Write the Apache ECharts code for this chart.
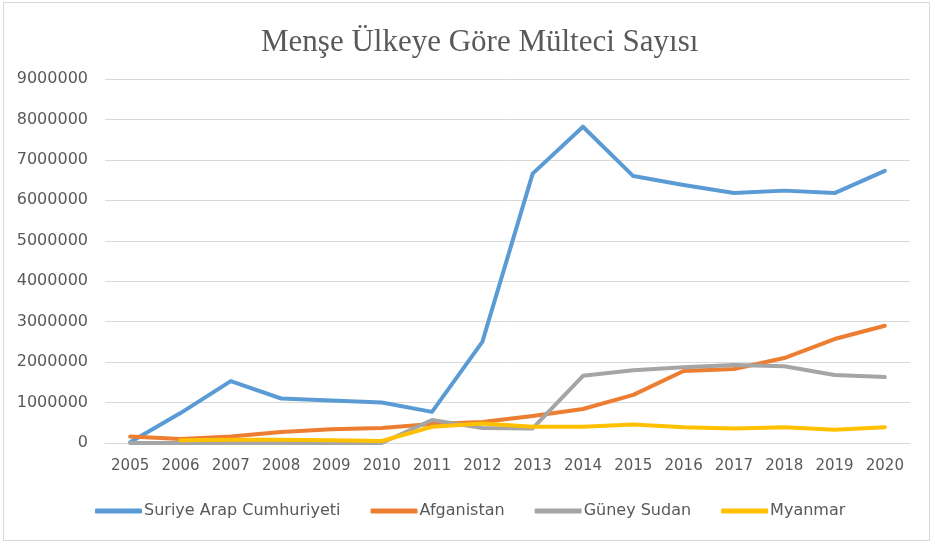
<!DOCTYPE html>
<html>
<head>
<meta charset="utf-8">
<script src="https://cdn.jsdelivr.net/npm/echarts@6/dist/echarts.min.js"></script>
<style>
  html, body { margin: 0; padding: 0; background: #fff; }
  #frame { position: absolute; left: 3px; top: 2px; width: 925px; height: 537px; border: 1px solid #d9d9d9; }
  #chart { position: absolute; left: 0; top: 0; width: 935px; height: 547px; }
</style>
</head>
<body>
<div id="frame"></div>
<div id="chart"></div>
<script>
const years = ['2005', '2006', '2007', '2008', '2009', '2010', '2011', '2012',
    '2013', '2014', '2015', '2016', '2017', '2018', '2019', '2020'];

const suriye = [20000, 740000, 1530000, 1100000, 1050000, 1000000, 770000, 2500000,
    6660000, 7820000, 6600000, 6380000, 6180000, 6240000, 6180000, 6730000];
const afganistan = [160000, 100000, 160000, 270000, 340000, 370000, 470000, 520000,
    670000, 840000, 1190000, 1780000, 1830000, 2100000, 2570000, 2900000];
const guneySudan = [0, 0, 0, 0, 0, 0, 570000, 370000,
    360000, 1660000, 1800000, 1870000, 1930000, 1900000, 1680000, 1630000];
const myanmar = [null, 70000, 80000, 80000, 70000, 50000, 400000, 480000,
    400000, 400000, 460000, 390000, 360000, 390000, 330000, 390000];

const colors = ['#5B9BD5', '#ED7D31', '#A5A5A5', '#FFC000'];

const chart = echarts.init(document.getElementById('chart'));

function line(name, data) {
    return {
        name: name,
        type: 'line',
        data: data,
        symbol: 'none',
        connectNulls: false,
        lineStyle: { width: 4, cap: 'round', join: 'round' }
    };
}

chart.setOption({
    animation: false,
    color: colors,
    title: {
        text: 'Menşe Ülkeye Göre Mülteci Sayısı',
        left: 256,
        top: 22,
        textStyle: {
            fontFamily: 'Liberation Serif',
            fontSize: 31,
            fontWeight: 'normal',
            color: '#595959'
        }
    },
    legend: {
        bottom: 23,
        left: 90,
        itemWidth: 47,
        itemHeight: 5,
        itemGap: 30,
        icon: 'roundRect',
        textStyle: { fontFamily: 'DejaVu Sans', fontSize: 16, color: '#595959', padding: [0, 0, 0, -3] }
    },
    grid: { left: 105, right: 25, top: 79, bottom: 104 },
    xAxis: {
        type: 'category',
        data: years,
        boundaryGap: true,
        axisLine: { lineStyle: { color: '#d9d9d9', width: 1 } },
        axisTick: { show: false },
        axisLabel: { fontFamily: 'DejaVu Sans', fontSize: 15, color: '#595959', margin: 16 }
    },
    yAxis: {
        type: 'value',
        min: 0,
        max: 9000000,
        interval: 1000000,
        axisLine: { show: false },
        axisTick: { show: false },
        splitLine: { lineStyle: { color: '#d9d9d9', width: 1 } },
        axisLabel: {
            fontFamily: 'DejaVu Sans', fontSize: 16, color: '#595959', margin: 17,
            formatter: function (v) { return String(v); }
        }
    },
    series: [
        line('Suriye Arap Cumhuriyeti', suriye),
        line('Afganistan', afganistan),
        line('Güney Sudan', guneySudan),
        line('Myanmar', myanmar)
    ]
});
</script>
</body>
</html>
